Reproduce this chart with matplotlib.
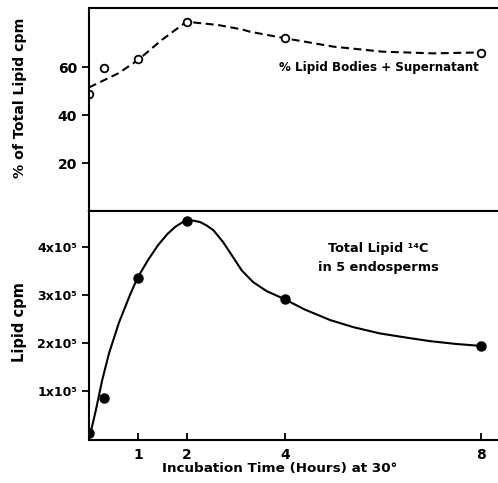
import matplotlib
matplotlib.use('Agg')
import matplotlib.pyplot as plt

plt.rcParams['font.family'] = ['DejaVu Sans']
plt.rcParams['font.weight'] = 'bold'

# ---- data ----
# top panel: % of total lipid cpm in lipid bodies + supernatant
pct_hours = [0, 0.31, 1, 2, 4, 8]
pct_values = [48.8, 59.6, 63.3, 78.8, 72.0, 65.9]
# hand-drawn dashed curve
pct_curve_hours = [0.0, 0.6, 1.0, 1.48, 1.99, 2.64, 3.12, 3.29, 4.03, 4.99, 6.0, 7.03, 8.0]
pct_curve_values = [51.5, 57.4, 62.9, 71.2, 78.9, 77.5, 75.7, 74.7, 71.9, 68.5, 66.4, 65.7, 66.1]

# bottom panel: total lipid 14C (x1e5 cpm)
cpm_hours = [0, 0.31, 1, 2, 4, 8]
cpm_values = [0.12, 0.85, 3.35, 4.54, 2.92, 1.94]
# hand-drawn solid curve
cpm_curve_hours = [0.0, 0.03, 0.14, 0.27, 0.41, 0.61, 0.82, 0.99, 1.2, 1.41, 1.6, 1.76, 1.9,
                   1.99, 2.13, 2.27, 2.4, 2.54, 2.74, 2.94, 3.12, 3.35, 3.63, 4.0, 4.4, 4.92,
                   5.4, 5.94, 6.5, 6.96, 7.5, 8.01]
cpm_curve_values = [0.0, 0.12, 0.6, 1.23, 1.79, 2.42, 2.96, 3.36, 3.72, 4.04, 4.27, 4.42, 4.51,
                    4.54, 4.55, 4.52, 4.45, 4.35, 4.1, 3.79, 3.51, 3.27, 3.08, 2.91, 2.7, 2.48,
                    2.33, 2.2, 2.11, 2.04, 1.98, 1.94]

x_ticks = [1, 2, 4, 8]
pct_ticks = [20, 40, 60]
cpm_ticks = [1, 2, 3, 4]
cpm_tick_labels = ['1x10⁵', '2x10⁵', '3x10⁵', '4x10⁵']

fig = plt.figure(figsize=(4.98, 4.83), dpi=100)
ax1 = fig.add_axes([0.1787, 0.5631, 0.8213, 0.4203])
ax2 = fig.add_axes([0.1787, 0.0890, 0.8213, 0.4741], sharex=ax1)

# ---- top panel ----
ax1.plot(pct_curve_hours, pct_curve_values, color='black', lw=1.5,
         linestyle=(0, (3.8, 2.2)))
ax1.plot(pct_hours, pct_values, 'o', ms=5.5, mfc='white', mec='black', mew=1.3)
ax1.set_ylim(0, 84.6)
ax1.set_yticks(pct_ticks)
ax1.set_ylabel('% of Total Lipid cpm', fontsize=10.2, fontweight='bold')
ax1.yaxis.set_label_coords(-0.152, 0.56)
ax1.text(7.95, 59.8, '% Lipid Bodies + Supernatant', ha='right', va='center',
         fontsize=8.6, fontweight='bold')
ax1.tick_params(axis='x', bottom=False, labelbottom=False)
ax1.tick_params(axis='y', direction='out', length=5, width=1.3, labelsize=10)

# ---- bottom panel ----
ax2.plot(cpm_curve_hours, cpm_curve_values, color='black', lw=1.5)
ax2.plot(cpm_hours, cpm_values, 'o', ms=6.5, color='black')
ax2.set_ylim(-0.02, 4.75)
ax2.set_yticks(cpm_ticks)
ax2.set_yticklabels(cpm_tick_labels)
ax2.set_xlim(0, 8.35)
ax2.set_xticks(x_ticks)
ax2.set_xticklabels([str(t) for t in x_ticks])
ax2.set_ylabel('Lipid cpm', fontsize=10.5, fontweight='bold')
ax2.yaxis.set_label_coords(-0.152, 0.515)
ax2.set_xlabel('Incubation Time (Hours) at 30°', fontsize=9.7, fontweight='bold')
ax2.xaxis.set_label_coords(0.467, -0.095)
ax2.text(5.9, 3.77, 'Total Lipid ¹⁴C\nin 5 endosperms', ha='center', va='center',
         fontsize=9.3, fontweight='bold', linespacing=1.55)
ax2.tick_params(axis='x', direction='in', length=5, width=1.3, labelsize=10, pad=6)
ax2.tick_params(axis='y', direction='out', length=5, width=1.3, labelsize=9)

for ax in (ax1, ax2):
    ax.spines['right'].set_visible(False)
    for s in ('left', 'top', 'bottom'):
        ax.spines[s].set_linewidth(1.5)

fig.savefig('out.png', dpi=100)
